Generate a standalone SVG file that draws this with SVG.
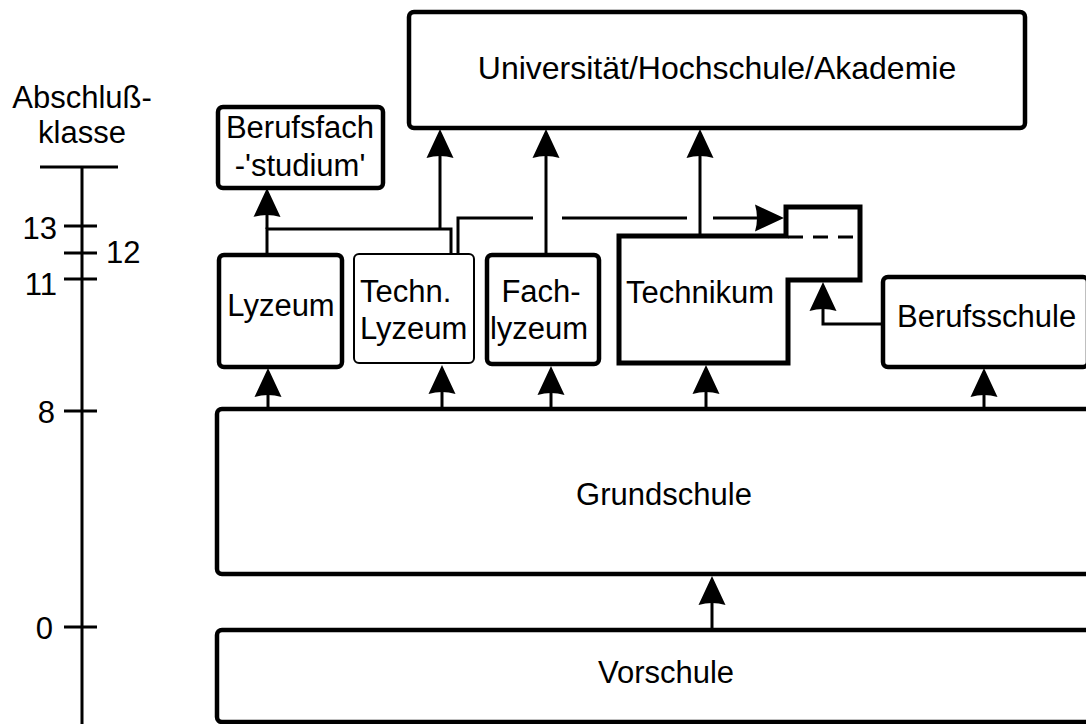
<svg xmlns="http://www.w3.org/2000/svg" xmlns:xlink="http://www.w3.org/1999/xlink" width="1086" height="724" viewBox="0 0 1086 724">
<style>
text { font-family: "Liberation Sans", Arial, Helvetica, sans-serif; font-size: 31px; fill: #000; }
.big { font-size: 32px; }
.box { fill: #fff; stroke: #000; stroke-width: 4.5; }
.thin { fill: #fff; stroke: #000; stroke-width: 2; }
.ln { fill: none; stroke: #000; stroke-width: 3; }
.ax { fill: none; stroke: #000; stroke-width: 3; }
.mid { text-anchor: middle; }
.end { text-anchor: end; }
</style>
<defs>
<path id="ah" d="M0,0 L13.5,29 Q0,25 -13.5,29 Z" fill="#000"/>
</defs>
<rect width="1086" height="724" fill="#fff"/>

<g id="axis">
<line class="ax" x1="82" y1="167" x2="82" y2="730"/>
<line class="ax" x1="40" y1="167" x2="118" y2="167"/>
<line class="ax" x1="64" y1="226" x2="97" y2="226"/>
<line class="ax" x1="64" y1="253" x2="97" y2="253"/>
<line class="ax" x1="64" y1="279" x2="97" y2="279"/>
<line class="ax" x1="64" y1="411" x2="97" y2="411"/>
<line class="ax" x1="64" y1="627" x2="97" y2="627"/>
<text class="mid" x="82" y="108">Abschluß-</text>
<text class="mid" x="82" y="143">klasse</text>
<text class="end" x="57" y="239">13</text>
<text x="106" y="263">12</text>
<text class="end" x="57" y="295">11</text>
<text class="end" x="55" y="423">8</text>
<text class="end" x="53" y="639">0</text>
</g>

<g id="connectors">
<polyline class="ln" points="267,254 267,229 451,229 451,253"/>
<line class="ln" x1="267" y1="229" x2="267" y2="210"/>
<use xlink:href="#ah" transform="translate(267,188)"/>
<line class="ln" x1="440" y1="229" x2="440" y2="150"/>
<use xlink:href="#ah" transform="translate(440,129)"/>
<line class="ln" x1="546" y1="254" x2="546" y2="150"/>
<use xlink:href="#ah" transform="translate(546,129)"/>
<line class="ln" x1="700" y1="236" x2="700" y2="150"/>
<use xlink:href="#ah" transform="translate(700,129)"/>
<polyline class="ln" points="458,253 458,218 533,218"/>
<line class="ln" x1="562" y1="218" x2="687" y2="218"/>
<line class="ln" x1="713" y1="218" x2="765" y2="218"/>
<use xlink:href="#ah" transform="translate(784,218) rotate(90)"/>
<polyline class="ln" points="883,324 823,324 823,300"/>
<use xlink:href="#ah" transform="translate(823,282)"/>
<line class="ln" x1="268" y1="409" x2="268" y2="390"/>
<use xlink:href="#ah" transform="translate(268,368)"/>
<line class="ln" x1="442" y1="409" x2="442" y2="390"/>
<use xlink:href="#ah" transform="translate(442,365)"/>
<line class="ln" x1="551" y1="409" x2="551" y2="390"/>
<use xlink:href="#ah" transform="translate(551,366)"/>
<line class="ln" x1="706" y1="409" x2="706" y2="390"/>
<use xlink:href="#ah" transform="translate(706,365)"/>
<line class="ln" x1="984" y1="409" x2="984" y2="390"/>
<use xlink:href="#ah" transform="translate(984,368)"/>
<line class="ln" x1="712" y1="630" x2="712" y2="598"/>
<use xlink:href="#ah" transform="translate(712,576)"/>
</g>

<g id="universitaet">
<rect class="box" x="409" y="12" width="616" height="116" rx="5"/>
<text class="mid big" x="717" y="79">Universität/Hochschule/Akademie</text>
</g>

<g id="berufsfach">
<rect class="box" x="218" y="107" width="165" height="81" rx="5"/>
<text class="mid" x="300" y="138">Berufsfach</text>
<text class="mid" x="300" y="176">-'studium'</text>
</g>

<g id="lyzeum">
<rect class="box" x="219" y="255" width="123" height="112" rx="5"/>
<text class="mid" x="281" y="316">Lyzeum</text>
</g>

<g id="techn-lyzeum">
<rect class="thin" x="354" y="254" width="120" height="109" rx="5"/>
<text x="360" y="302">Techn.</text>
<text x="360" y="339">Lyzeum</text>
</g>

<g id="fachlyzeum">
<rect class="box" x="487" y="255" width="112" height="109" rx="5"/>
<text class="mid" x="541" y="302">Fach-</text>
<text class="mid" x="539" y="339">lyzeum</text>
</g>

<g id="technikum">
<polygon points="619,236 786,236 786,207 860,207 860,280 788,280 788,363 619,363" fill="#fff" stroke="#000" stroke-width="5" stroke-linejoin="miter"/>
<line x1="788" y1="237" x2="858" y2="237" stroke="#000" stroke-width="3" stroke-dasharray="15,10"/>
<text x="626" y="303">Technikum</text>
</g>

<g id="berufsschule">
<rect class="box" x="883" y="277" width="205" height="90" rx="5"/>
<text x="897" y="327">Berufsschule</text>
</g>

<g id="grundschule">
<rect class="box" x="217" y="409" width="900" height="165" rx="5"/>
<text class="mid" x="664" y="505">Grundschule</text>
</g>

<g id="vorschule">
<rect class="box" x="217" y="630" width="900" height="92" rx="5"/>
<text class="mid" x="666" y="683">Vorschule</text>
</g>
</svg>
